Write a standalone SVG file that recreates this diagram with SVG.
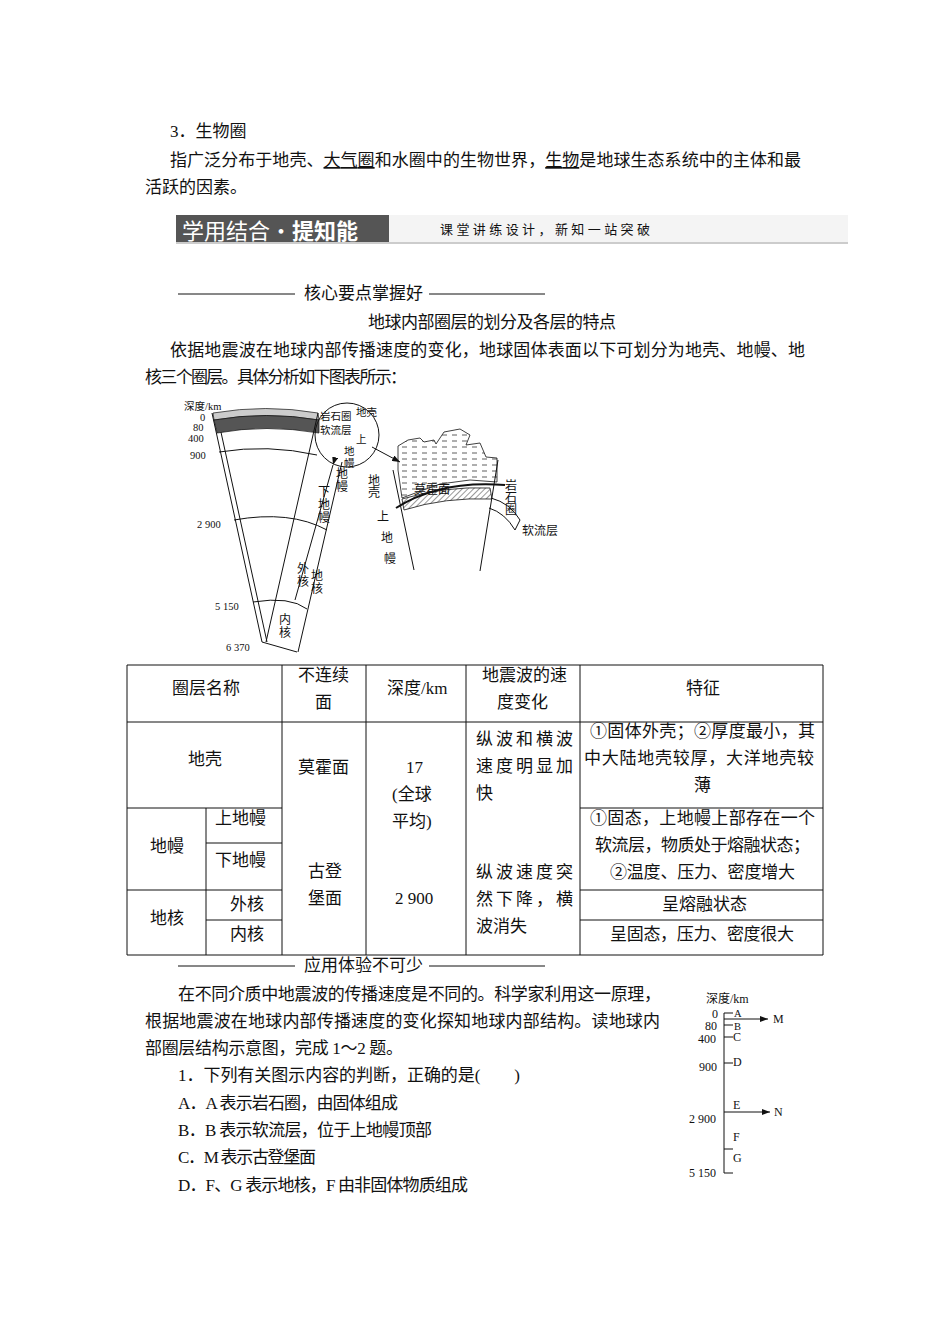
<svg xmlns="http://www.w3.org/2000/svg" width="950" height="1344" viewBox="0 0 950 1344">
<style>
text{font-family:"Liberation Serif","Noto Sans CJK SC",serif;fill:#111}
.b{font-size:17px}
.s{font-size:12px}
.d{font-size:10.5px}
.l{stroke:#111;fill:none;stroke-width:1}
</style>
<defs>
<marker id="ar" markerWidth="8" markerHeight="6" refX="8" refY="3" orient="auto"><path d="M0,0L8,3L0,6z" fill="#111"/></marker>
<pattern id="dash" width="10" height="6" patternUnits="userSpaceOnUse"><path d="M2,3h5" stroke="#333" stroke-width="0.8"/></pattern>
<pattern id="hat" width="4" height="4" patternUnits="userSpaceOnUse" patternTransform="rotate(45)"><path d="M0,0v4" stroke="#333" stroke-width="1"/></pattern>
</defs>
<rect width="950" height="1344" fill="#fff"/>
<g id="text-top">
<text class="b" x="170" y="137">3．生物圈</text>
<text class="b" x="170" y="166" textLength="631">指广泛分布于地壳、<tspan text-decoration="underline">大气圈</tspan>和水圈中的生物世界，<tspan text-decoration="underline">生物</tspan>是地球生态系统中的主体和最</text>
<text class="b" x="145" y="193">活跃的因素。</text>
</g>
<g id="banner">
<rect x="176" y="215" width="213" height="27" fill="#555"/>
<rect x="389" y="215" width="459" height="27" fill="#f4f4f4"/>
<line x1="176" y1="243" x2="848" y2="243" stroke="#999"/>
<text x="182" y="239" style="font-size:22px;fill:#fff;font-family:'Noto Sans CJK SC',sans-serif">学用结合·<tspan font-weight="bold">提知能</tspan></text>
<text x="440" y="234" style="font-size:13px" textLength="210">课堂讲练设计，新知一站突破</text>
</g>
<g id="text-mid">
<path class="l" d="M178,294H295M429,294H545"/>
<text class="b" x="304" y="299">核心要点掌握好</text>
<text class="b" x="368" y="328" textLength="248">地球内部圈层的划分及各层的特点</text>
<text class="b" x="170" y="356" textLength="635">依据地震波在地球内部传播速度的变化，地球固体表面以下可划分为地壳、地幔、地</text>
<text class="b" x="145" y="383" textLength="262">核三个圈层。具体分析如下图表所示：</text>
</g>
<g id="fig1">
<text class="d" x="184" y="410">深度/km</text>
<text class="d" x="200" y="421">0</text>
<text class="d" x="193" y="431">80</text>
<text class="d" x="188" y="442">400</text>
<text class="d" x="190" y="459">900</text>
<text class="d" x="197" y="528">2 900</text>
<text class="d" x="215" y="610">5 150</text>
<text class="d" x="226" y="651">6 370</text>
<path class="l" d="M212,413L262,642M217,414L267,642M262,642L297,652"/>
<path d="M213,413Q266,404 318,413L319,420Q266,411 214,420z" fill="#ccc" stroke="#111" stroke-width="0.7"/>
<path d="M214,420Q266,411 319,420L319,433Q266,424 217,433z" fill="#555" stroke="#111" stroke-width="0.7"/>
<path class="l" d="M318,413L266,642"/>
<path class="l" d="M219,452Q268,444 317,455"/>
<path class="l" d="M234,520Q290,510 327,530"/>
<path class="l" d="M253,602Q290,596 307,609"/>
<path class="l" d="M342,462L298,652"/>
<path class="l" d="M333,465L295,600" marker-start="url(#ar)"/>
<text class="s" x="336" y="478">地</text><text class="s" x="336" y="491">幔</text>
<text class="s" x="318" y="496">下</text><text class="s" x="318" y="509">地</text><text class="s" x="318" y="522">幔</text>
<text class="s" x="297" y="573">外</text><text class="s" x="297" y="586">核</text>
<text class="s" x="311" y="580">地</text><text class="s" x="311" y="593">核</text>
<text class="s" x="279" y="624">内</text><text class="s" x="279" y="637">核</text>
<circle cx="347" cy="435" r="32" class="l"/>
<text class="d" x="320" y="420">岩石圈</text>
<text class="d" x="320" y="434">软流层</text>
<text class="d" x="356" y="416">地壳</text>
<text class="d" x="356" y="443">上</text><text class="d" x="344" y="455">地</text><text class="d" x="344" y="467">幔</text>
<path class="l" d="M372,447L400,462" marker-end="url(#ar)"/>
<path d="M398,446L408,440L420,438L424,442L434,440L436,444L444,432L460,429L470,435L466,445L480,443L486,457L497,458L497,482L470,480L440,484L418,492L402,498L398,470z" fill="url(#dash)" stroke="#111" stroke-width="0.8"/>
<path d="M402,499Q445,486 490,488L492,499Q445,497 404,510z" fill="url(#hat)" stroke="#111" stroke-width="0.8"/>
<path class="l" d="M393,470L414,570M498,460L480,571M491,498Q510,503 520,520L515,530Q505,513 489,508"/>
<path d="M396,508Q440,480 505,485" stroke="#111" stroke-width="2" fill="none"/>
<text class="s" x="414" y="494">莫霍面</text>
<text class="s" x="368" y="485">地</text><text class="s" x="368" y="497">壳</text>
<text class="s" x="377" y="521">上</text><text class="s" x="381" y="542">地</text><text class="s" x="384" y="563">幔</text>
<text class="s" x="505" y="490">岩</text><text class="s" x="505" y="502">石</text><text class="s" x="505" y="514">圈</text>
<text class="s" x="522" y="535">软流层</text>
</g>
<g id="table">
<path class="l" d="M127,665H823V955H127z M282,665V955M366,665V955M466,665V955M580,665V955M206,808V955M127,722H823M127,808H282M580,808H823M206,843H282M127,890H282M580,890H823M206,920H282M580,920H823"/>
<text class="b" x="172" y="694">圈层名称</text>
<text class="b" x="298" y="681">不连续</text><text class="b" x="315" y="708">面</text>
<text class="b" x="387" y="694">深度/km</text>
<text class="b" x="482" y="681">地震波的速</text><text class="b" x="497" y="708">度变化</text>
<text class="b" x="686" y="694">特征</text>
<text class="b" x="188" y="765">地壳</text>
<text class="b" x="298" y="773">莫霍面</text>
<text class="b" x="406" y="773">17</text>
<text class="b" x="392" y="800">(全球</text>
<text class="b" x="392" y="827">平均)</text>
<text class="b" x="476" y="745" textLength="97">纵波和横波</text>
<text class="b" x="476" y="772" textLength="97">速度明显加</text>
<text class="b" x="476" y="799">快</text>
<text class="b" x="590" y="737" textLength="225">①固体外壳；②厚度最小，其</text>
<text class="b" x="584" y="764" textLength="230">中大陆地壳较厚，大洋地壳较</text>
<text class="b" x="694" y="791">薄</text>
<text class="b" x="215" y="824">上地幔</text>
<text class="b" x="150" y="852">地幔</text>
<text class="b" x="215" y="866">下地幔</text>
<text class="b" x="308" y="877">古登</text>
<text class="b" x="308" y="904">堡面</text>
<text class="b" x="395" y="904">2 900</text>
<text class="b" x="476" y="878" textLength="97">纵波速度突</text>
<text class="b" x="476" y="905" textLength="97">然下降，横</text>
<text class="b" x="476" y="932">波消失</text>
<text class="b" x="590" y="824" textLength="225">①固态，上地幔上部存在一个</text>
<text class="b" x="595" y="851" textLength="215">软流层，物质处于熔融状态；</text>
<text class="b" x="610" y="878" textLength="185">②温度、压力、密度增大</text>
<text class="b" x="150" y="924">地核</text>
<text class="b" x="230" y="910">外核</text>
<text class="b" x="230" y="940">内核</text>
<text class="b" x="662" y="910">呈熔融状态</text>
<text class="b" x="610" y="940" textLength="184">呈固态，压力、密度很大</text>
</g>
<g id="text-bottom">
<path class="l" d="M178,966H295M429,966H545"/>
<text class="b" x="304" y="971">应用体验不可少</text>
<text class="b" x="178" y="1000" textLength="483">在不同介质中地震波的传播速度是不同的。科学家利用这一原理，</text>
<text class="b" x="145" y="1027" textLength="515">根据地震波在地球内部传播速度的变化探知地球内部结构。读地球内</text>
<text class="b" x="145" y="1054" textLength="258">部圈层结构示意图，完成 1～2 题。</text>
<text class="b" x="178" y="1081" textLength="342">1．下列有关图示内容的判断，正确的是(　　)</text>
<text class="b" x="178" y="1109" textLength="220">A．A 表示岩石圈，由固体组成</text>
<text class="b" x="178" y="1136" textLength="254">B．B 表示软流层，位于上地幔顶部</text>
<text class="b" x="178" y="1163" textLength="138">C．M 表示古登堡面</text>
<text class="b" x="178" y="1191" textLength="290">D．F、G 表示地核，F 由非固体物质组成</text>
</g>
<g id="fig2">
<text class="s" x="706" y="1003">深度/km</text>
<path class="l" d="M724,1013V1173M724,1013h9M724,1025h9M724,1037h9M724,1063h9M724,1149h9M724,1173h9"/>
<path class="l" d="M724,1019H768" marker-end="url(#ar)"/>
<path class="l" d="M724,1112H770" marker-end="url(#ar)"/>
<text class="s" x="712" y="1018">0</text>
<text class="s" x="705" y="1030">80</text>
<text class="s" x="698" y="1043">400</text>
<text class="s" x="699" y="1071">900</text>
<text class="s" x="689" y="1123">2 900</text>
<text class="s" x="689" y="1177">5 150</text>
<text class="d" x="734" y="1017">A</text>
<text class="d" x="734" y="1030">B</text>
<text class="s" x="733" y="1041">C</text>
<text class="s" x="733" y="1066">D</text>
<text class="s" x="733" y="1109">E</text>
<text class="s" x="733" y="1141">F</text>
<text class="s" x="733" y="1162">G</text>
<text class="s" x="773" y="1023">M</text>
<text class="s" x="774" y="1116">N</text>
</g>
</svg>
